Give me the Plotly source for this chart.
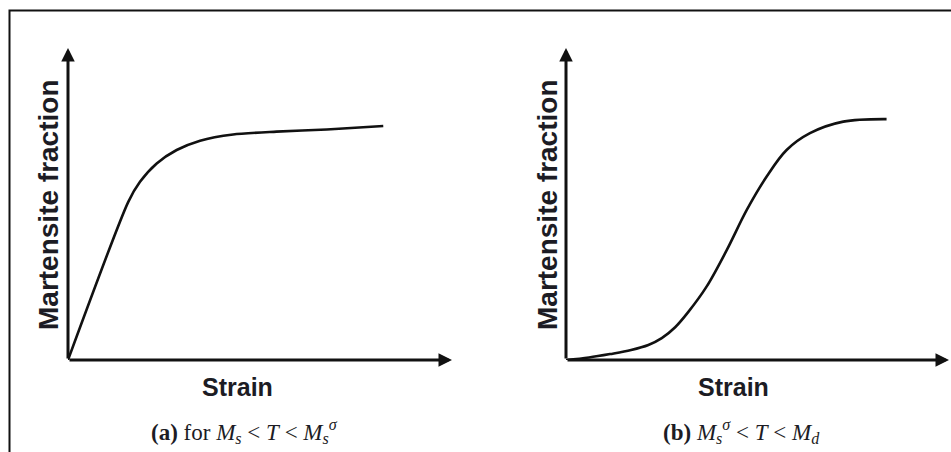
import plotly.graph_objects as go

W, H = 951, 452

# Panel (a): Ms < T < Ms^sigma  (strain, martensite fraction) in relative units
strain_a = [0.0, 0.157, 0.1875, 0.231, 0.283, 0.344, 0.430, 0.543, 0.674, 0.821]
frac_a = [0.0, 0.507, 0.571, 0.630, 0.673, 0.703, 0.723, 0.732, 0.739, 0.750]

# Panel (b): Ms^sigma < T < Md
strain_b = [0.0, 0.06, 0.115, 0.17, 0.215, 0.250, 0.285, 0.320, 0.367, 0.420, 0.472, 0.524, 0.576, 0.637, 0.724, 0.837]
frac_b = [0.0, 0.008, 0.019, 0.032, 0.048, 0.070, 0.105, 0.155, 0.235, 0.353, 0.481, 0.588, 0.673, 0.727, 0.764, 0.772]

x_title = "Strain"
y_title = "Martensite fraction"
caption_a = "<b>(a)</b> for <i>M<sub>s</sub></i> &lt; <i>T</i> &lt; <i>M<sub>s</sub><sup>σ</sup></i>"
caption_b = "<b>(b)</b> <i>M<sub>s</sub><sup>σ</sup></i> &lt; <i>T</i> &lt; <i>M<sub>d</sub></i>"

def px(xp):
    return xp / W

def py(yp):
    return (H - yp) / H

fig = go.Figure()
fig.add_trace(go.Scatter(x=strain_a, y=frac_a, mode="lines", xaxis="x", yaxis="y",
                         line=dict(color="#111", width=2.6, shape="spline", smoothing=0.7),
                         showlegend=False, hoverinfo="skip"))
fig.add_trace(go.Scatter(x=strain_b, y=frac_b, mode="lines", xaxis="x2", yaxis="y2",
                         line=dict(color="#111", width=2.6, shape="spline", smoothing=1.0),
                         showlegend=False, hoverinfo="skip"))

ax_common = dict(range=[0, 1], showgrid=False, zeroline=False, showticklabels=False,
                 showline=False, ticks="", fixedrange=True)
fig.update_layout(
    width=W, height=H,
    margin=dict(l=0, r=0, t=0, b=0),
    paper_bgcolor="white", plot_bgcolor="white",
    xaxis=dict(domain=[px(68), px(452)], anchor="y", **ax_common),
    yaxis=dict(domain=[py(360), py(48)], anchor="x", **ax_common),
    xaxis2=dict(domain=[px(566), px(949)], anchor="y2", **ax_common),
    yaxis2=dict(domain=[py(360), py(48)], anchor="x2", **ax_common),
)

anns = []
# axis arrows
for xr, yr in [("x", "y"), ("x2", "y2")]:
    anns.append(dict(x=1, y=0, ax=0, ay=0, xref=xr, yref=yr, axref=xr, ayref=yr,
                     text="", showarrow=True, arrowhead=2, arrowsize=0.9, arrowwidth=3,
                     arrowcolor="#111", standoff=0, startstandoff=0))
    anns.append(dict(x=0, y=1, ax=0, ay=0, xref=xr, yref=yr, axref=xr, ayref=yr,
                     text="", showarrow=True, arrowhead=2, arrowsize=0.9, arrowwidth=3,
                     arrowcolor="#111", standoff=0, startstandoff=0))

bold = dict(family="Liberation Sans, Arial, sans-serif", size=25, color="#1c1c24")
serif = dict(family="Liberation Serif, Times New Roman, serif", size=23, color="#1c1c24")

for cx in (237, 733):
    anns.append(dict(x=px(cx), y=py(387), xref="paper", yref="paper", text="<b>%s</b>" % x_title,
                     showarrow=False, font=bold, xanchor="center", yanchor="middle"))
for cx in (48, 547):
    anns.append(dict(x=px(cx), y=py(205), xref="paper", yref="paper", text="<b>%s</b>" % y_title,
                     showarrow=False, font=dict(bold, size=28), textangle=-90,
                     xanchor="center", yanchor="middle"))
anns.append(dict(x=px(244), y=py(431), xref="paper", yref="paper", text=caption_a,
                 showarrow=False, font=serif, xanchor="center", yanchor="middle"))
anns.append(dict(x=px(741), y=py(431), xref="paper", yref="paper", text=caption_b,
                 showarrow=False, font=serif, xanchor="center", yanchor="middle"))
fig.update_layout(annotations=anns)

# outer frame
fig.add_shape(type="rect", xref="paper", yref="paper", x0=px(9.5), x1=1.05, y0=-0.05, y1=py(10.5),
              line=dict(color="#111", width=2), fillcolor="rgba(0,0,0,0)")

fig.write_html("out.html")
